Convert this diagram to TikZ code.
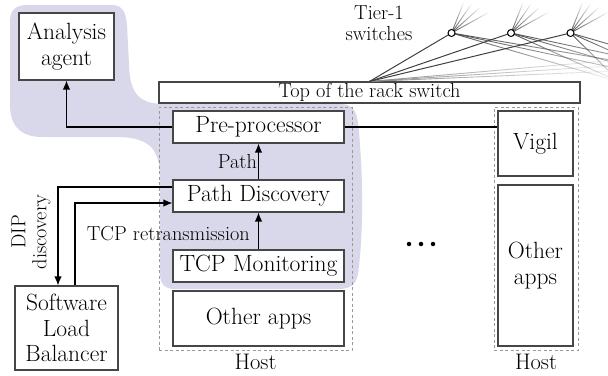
\documentclass[tikz,border=0pt]{standalone}
\usepackage{fontspec}
\usetikzlibrary{arrows.meta,fadings}
\definecolor{blob}{RGB}{216,216,234}
\definecolor{edge}{RGB}{70,70,70}
\begin{document}
\begin{tikzpicture}[x=1pt,y=-1pt,
  box/.style={draw=edge, line width=1.1pt, fill=white, align=center, inner sep=0pt, font=\fontsize{23.5}{25.5}\selectfont},
  hostbox/.style={draw=black!40, dash pattern=on 3pt off 2.5pt, line width=0.8pt, inner sep=0pt},
  lbl/.style={font=\fontsize{20.3}{21}\selectfont, inner sep=1pt},
  arr/.style={line width=1.2pt, -{Latex[length=9pt,width=7.5pt]}},
  ln/.style={line width=1.2pt},
  sw/.style={circle, draw=black, fill=white, line width=1pt, minimum size=7pt, inner sep=0pt},
  fan/.style={line width=0.9pt, draw=black!70, path fading=east},
  dot/.style={circle, fill=black, inner sep=0pt, minimum size=4.5pt},
]
\useasboundingbox (0,0) rectangle (608,375);

% highlighted region
\fill[blob] (10,22) .. controls (10,10) and (15,5) .. (28,5) -- (112,5)
  .. controls (122,5) and (126,12) .. (127,25) -- (129,65)
  .. controls (130,95) and (140,104) .. (165,104) -- (340,104)
  .. controls (352,104) and (356,110) .. (358,122)
  .. controls (363,170) and (364,230) .. (358,274)
  .. controls (356,285) and (350,289) .. (338,289) -- (175,289)
  .. controls (165,289) and (160,284) .. (160,274) -- (160,178)
  .. controls (160,150) and (150,138) .. (120,137) -- (42,137)
  .. controls (20,137) and (10,125) .. (10,105) -- cycle;

% tier-1 fan
\coordinate (p1) at (451.5,33);
\coordinate (p2) at (511,33);
\coordinate (p3) at (570.5,33);
\node[box, font=\fontsize{20.3}{21}\selectfont, minimum width=421pt, minimum height=21pt] (tor) at (369.5,92.5) {Top of the rack switch};
\begin{scope}
\clip (0,0) rectangle (608,375);
\foreach \p in {p1,p2,p3}{
  \draw[fan] (\p) -- ++(12,-30);
  \draw[fan] (\p) -- ++(20,-29);
  \draw[fan] (\p) -- ++(29,-26);
  \draw[fan] (\p) -- ++(38,-21);
  \draw[fan] (\p) -- (620,82);
  \draw[fan] (\p) -- (680,82);
  \draw[fan] (\p) -- (740,82);
}
\draw[fan, draw=black!45] (tor.north) -- (640,58);
\draw[fan, draw=black!45] (tor.north) -- (640,64);
\draw[fan, draw=black!45] (tor.north) -- (640,70);
\end{scope}
\draw[line width=1pt, draw=black!75] (tor.north) -- (p1);
\draw[line width=1pt, draw=black!75] (tor.north) -- (p2);
\draw[line width=1pt, draw=black!75] (tor.north) -- (p3);
\node[sw] (c1) at (p1) {};
\node[sw] (c2) at (p2) {};
\node[sw] (c3) at (p3) {};
\node[lbl, align=center] (tierlbl) at (379,23) {Tier-1\\switches};

% boxes
\node[box, minimum width=95pt, minimum height=67pt] (agent) at (66.5,46.5) {Analysis\\agent};
\node[hostbox, minimum width=193pt, minimum height=243pt] (host1) at (255.5,228.5) {};
\node[hostbox, minimum width=84pt, minimum height=243pt] (host2) at (536,228.5) {};
\node[box, minimum width=171pt, minimum height=32pt] (pre) at (258.5,127) {Pre-processor};
\node[box, minimum width=171pt, minimum height=32pt] (pd) at (258.5,196) {Path Discovery};
\node[box, minimum width=171pt, minimum height=32pt] (tcp) at (258.5,266) {TCP Monitoring};
\node[box, minimum width=171pt, minimum height=55pt] (oa1) at (258.5,318.5) {Other apps};
\node[box, minimum width=75pt, minimum height=65pt] (vigil) at (535.5,143.5) {Vigil};
\node[box, minimum width=75pt, minimum height=161pt] (oa2) at (535.5,265.5) {Other\\apps};
\node[box, minimum width=103pt, minimum height=84pt] (slb) at (66.5,328) {Software\\Load\\Balancer};

\node[font=\fontsize{22.5}{24}\selectfont, anchor=base, inner sep=0pt] (h1) at (255.5,369.5) {Host};
\node[font=\fontsize{22.5}{24}\selectfont, anchor=base, inner sep=0pt] (h2) at (536,369.5) {Host};

\node[dot] (d1) at (409,244) {};
\node[dot] (d2) at (421,244) {};
\node[dot] (d3) at (433,244) {};

% connectors
\draw[arr] (pre.west) -| (agent.south);
\draw[ln] (pre.east) -- (pre.east -| vigil.west);
\draw[arr] (pd.north) -- (pre.south) node[lbl, midway, left] (pathlbl) {Path};
\draw[arr] (tcp.north) -- (pd.south);
\draw[arr] ([yshift=9pt]pd.west) -| ([xshift=-8.5pt]slb.north);
\draw[arr] ([xshift=8.5pt]slb.north) |- ([yshift=-7pt]pd.west);
\node[lbl, anchor=east] (tcplbl) at (251,234) {TCP retransmission};
\node[lbl, align=center, rotate=90] (diplbl) at (31,232) {DIP\\discovery};
\end{tikzpicture}
\end{document}
